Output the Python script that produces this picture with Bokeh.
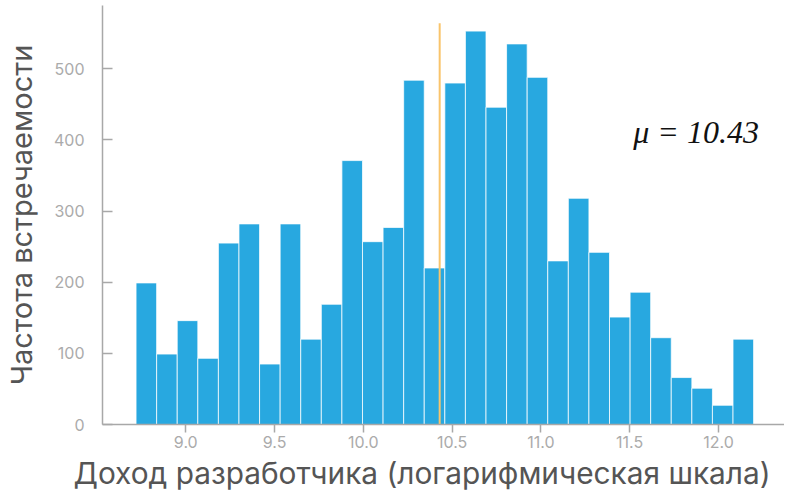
from bokeh.plotting import figure
from bokeh.models import FixedTicker, NumeralTickFormatter, Range1d, ColumnDataSource, Title
from bokeh.core.properties import value
from bokeh.embed import file_html
from bokeh.resources import INLINE
import numpy as np

# Histogram data (log developer income)
bin_min = 8.720
bin_max = 12.198
counts = [199, 99, 146, 93, 255, 282, 85, 282, 120, 169,
          371, 257, 277, 484, 220, 480, 553, 446, 535, 488,
          230, 318, 242, 151, 186, 122, 66, 51, 27, 120]
mean_value = 10.43
x_ticks = [9.0, 9.5, 10.0, 10.5, 11.0, 11.5, 12.0]
y_ticks = [0, 100, 200, 300, 400, 500]
x_title = "Доход разработчика (логарифмическая шкала)"
y_title = "Частота встречаемости"
mean_label = "μ = 10.43"

edges = np.linspace(bin_min, bin_max, len(counts) + 1)
src = ColumnDataSource(dict(left=edges[:-1], right=edges[1:], top=counts))

p = figure(width=784, height=492, output_backend="svg", toolbar_location=None,
           x_range=Range1d(8.531, 12.372), y_range=Range1d(0, 589),
           min_border_left=93, min_border_right=0, min_border_top=5, min_border_bottom=68)
p.outline_line_color = None
p.xgrid.grid_line_color = None
p.ygrid.grid_line_color = None
p.background_fill_color = "white"
p.border_fill_color = "white"

p.quad(left="left", right="right", bottom=0, top="top", source=src,
       fill_color="#28a8e0", line_color="#ffffff", line_alpha=0.75, line_width=1)

p.segment(x0=[mean_value], y0=[0], x1=[mean_value], y1=[max(counts) * 1.02],
          line_color="#f9c46b", line_width=2)

p.text(x=[11.52], y=[411], text=[mean_label], text_font=value("Liberation Serif"),
       text_font_style="italic", text_font_size="32px", text_color="#111111",
       text_baseline="middle", text_align="left")

for ax in (p.xaxis[0], p.yaxis[0]):
    ax.axis_line_color = "#a8a8a8"
    ax.axis_line_width = 1.5
    ax.major_tick_line_color = "#a8a8a8"
    ax.major_tick_line_width = 1.5
    ax.minor_tick_line_color = None
    ax.major_label_text_color = "#ababab"
    ax.major_label_text_font = "Inter"
    ax.major_label_text_font_size = "16px"
    ax.axis_label_text_font = "Inter"
    ax.axis_label_text_font_size = "29px"
    ax.axis_label_text_font_style = "normal"
    ax.axis_label_text_color = "#555555"

p.xaxis.ticker = FixedTicker(ticks=x_ticks)
p.xaxis.formatter = NumeralTickFormatter(format="0.0")
p.xaxis.major_tick_in = 0
p.xaxis.major_tick_out = 8
p.xaxis.major_label_standoff = 3

p.add_layout(Title(text=x_title, align="left", offset=-29, text_font="Inter",
                   text_font_size="29.8px", text_font_style="normal",
                   text_color="#555555", standoff=4), "below")

p.yaxis.ticker = FixedTicker(ticks=y_ticks)
p.yaxis.major_tick_in = 10
p.yaxis.major_tick_out = 0
p.yaxis.major_label_standoff = 18
p.yaxis.axis_label = y_title
p.yaxis.axis_label_standoff = 12

open("out.html", "w").write(file_html(p, INLINE))
